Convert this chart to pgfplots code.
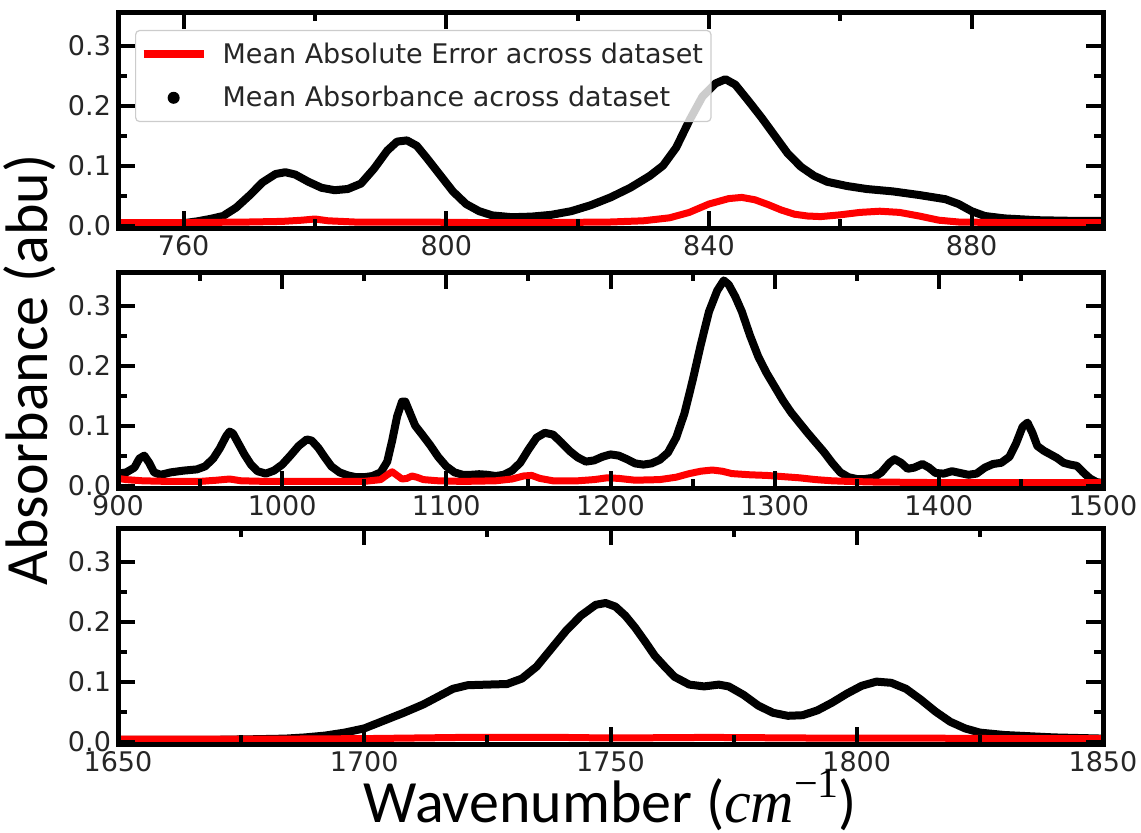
\documentclass[border=0pt]{standalone}
\usepackage{fontspec}
\setmainfont{DejaVu Sans}
\newfontfamily\carlito{Carlito}
\newfontfamily\lserif{Liberation Serif}
\usepackage{pgfplots}
\pgfplotsset{compat=1.18}

\pgfplotsset{
  panel/.style={
    scale only axis, width=492.5pt, height=108pt,
    ymin=-0.004, ymax=0.356,
    ytick={0,0.1,0.2,0.3}, minor ytick={0.05,0.15,0.25},
    yticklabel style={/pgf/number format/fixed, /pgf/number format/fixed zerofill, /pgf/number format/precision=1},
    xticklabel style={/pgf/number format/1000 sep={}},
    /pgf/number format/assume math mode=true,
    tick label style={font=\fontsize{13.5}{16}\selectfont, text=black!85},
    axis line style={line width=2.5pt},
    tick align=inside, xtick pos=both, ytick pos=both,
    xticklabel pos=lower, yticklabel pos=left,
    major tick length=8.5pt, minor tick length=4.5pt,
    tick style={line width=2pt, black},
    axis on top,
  },
  blk/.style={black, line width=4pt, line join=round, mark=none},
  rd/.style={red, line width=3.5pt, line join=round, mark=none},
}

\begin{document}
\begin{tikzpicture}
\useasboundingbox (0,0) rectangle (570.5pt,-416pt);

% ---------------- panel 1 ----------------
\begin{axis}[panel, at={(59pt,-6pt)}, anchor=north west,
  xmin=750, xmax=900, xtick={760,800,840,880}, minor xtick={780,820,860},
  legend cell align=left,
  legend style={at={(axis description cs:0.0173,0.917)}, anchor=north west,
    fill=white, fill opacity=0.8, text opacity=1, draw=black!20, draw opacity=1,
    rounded corners=2pt, line width=0.6pt,
    font=\fontsize{13.5}{16}\selectfont, text=black!85,
    column sep=5.5pt, row sep=6pt, inner xsep=2pt, inner ysep=4pt}]
\addlegendimage{legend image code/.code={\path[draw=none] (0pt,0pt) -- (30pt,0pt);\draw[red, line width=4pt, draw opacity=1] (0pt,0pt) -- (30pt,0pt);}}
\addlegendentry{Mean Absolute Error across dataset}
\addlegendimage{legend image code/.code={\path[draw=none] (0pt,0pt) -- (30pt,0pt);\fill[black, draw=none, fill opacity=1] (15pt,0pt) circle (3pt);}}
\addlegendentry{Mean Absorbance across dataset}
\addplot[blk, forget plot] coordinates {
(750,0.003) (755,0.003) (760,0.004) (762,0.007) (764,0.011) (766,0.016) (768,0.03)
(770,0.05) (772,0.072) (774,0.086) (775.5,0.089) (777,0.085) (779,0.073) (781,0.063)
(783,0.059) (785,0.061) (787,0.07) (789,0.095) (791,0.125) (792.5,0.14) (794,0.142)
(795.5,0.133) (797,0.113) (799,0.085) (801,0.057) (803,0.036) (805,0.024) (807,0.017)
(810,0.014) (813,0.015) (816,0.018) (819,0.024) (822,0.034) (825,0.047) (828,0.063)
(831,0.083) (833,0.1) (835,0.13) (837,0.175) (839,0.215) (841,0.237) (842.5,0.244)
(844,0.235) (846,0.208) (848,0.18) (850,0.15) (852,0.12) (854,0.098) (856,0.083)
(858,0.073) (861,0.066) (864,0.061) (868,0.057) (872,0.051) (876,0.044) (878,0.036)
(880,0.024) (882,0.016) (885,0.012) (890,0.009) (895,0.008) (900,0.008)
};
\addplot[rd, forget plot] coordinates {
(750,0.005) (760,0.005) (770,0.006) (775,0.007) (778,0.009) (780,0.011) (782,0.008)
(786,0.006) (795,0.006) (805,0.005) (815,0.005) (825,0.006) (830,0.008) (834,0.013)
(837,0.022) (840,0.036) (843,0.045) (845,0.047) (847,0.043) (849,0.035) (851,0.026)
(853,0.019) (855,0.016) (857,0.015) (860,0.018) (863,0.022) (866,0.024) (869,0.022)
(872,0.016) (875,0.009) (878,0.006) (885,0.005) (900,0.005)
};
\end{axis}

% ---------------- panel 2 ----------------
\begin{axis}[panel, at={(59pt,-136pt)}, anchor=north west,
  xmin=900, xmax=1500, xtick={900,1000,...,1500}, minor xtick={950,1050,...,1450},
  ylabel={Absorbance (abu)},
  ylabel style={font=\carlito\fontsize{30}{36}\selectfont, text=black,
    at={(axis description cs:-0.0893,0.546)}, anchor=center}]
\addplot[blk] coordinates {
(900,0.02) (905,0.022) (910,0.03) (913,0.045) (916,0.05) (919,0.038) (922,0.022)
(926,0.018) (932,0.022) (940,0.025) (948,0.027) (953,0.032) (958,0.045) (962,0.062)
(966,0.083) (968,0.09) (970,0.087) (973,0.072) (977,0.052) (981,0.035) (985,0.024)
(990,0.02) (995,0.025) (1000,0.035) (1005,0.05) (1010,0.066) (1015,0.077) (1018,0.075)
(1022,0.063) (1026,0.047) (1030,0.032) (1035,0.022) (1040,0.017) (1045,0.014) (1050,0.014)
(1055,0.016) (1060,0.022) (1064,0.04) (1067,0.075) (1070,0.115) (1073,0.14) (1075,0.14)
(1078,0.12) (1081,0.1) (1085,0.086) (1090,0.068) (1095,0.048) (1100,0.032) (1105,0.022)
(1110,0.018) (1115,0.018) (1120,0.019) (1125,0.018) (1130,0.016) (1135,0.018) (1140,0.025)
(1145,0.038) (1150,0.06) (1155,0.08) (1160,0.088) (1165,0.085) (1170,0.072) (1175,0.058)
(1180,0.047) (1185,0.04) (1190,0.042) (1195,0.048) (1200,0.052) (1205,0.05) (1210,0.044)
(1215,0.037) (1220,0.035) (1225,0.037) (1230,0.043) (1235,0.055) (1240,0.08) (1245,0.12)
(1250,0.175) (1255,0.235) (1260,0.29) (1265,0.325) (1269,0.342) (1272,0.335) (1276,0.315)
(1280,0.29) (1285,0.25) (1290,0.215) (1295,0.188) (1300,0.165) (1305,0.142) (1310,0.122)
(1315,0.105) (1320,0.088) (1325,0.072) (1330,0.056) (1335,0.038) (1340,0.022) (1345,0.014)
(1350,0.011) (1355,0.011) (1360,0.013) (1365,0.022) (1370,0.038) (1373,0.044) (1377,0.038)
(1381,0.028) (1385,0.03) (1390,0.036) (1394,0.03) (1398,0.021) (1403,0.02) (1408,0.024)
(1413,0.021) (1418,0.018) (1423,0.02) (1428,0.03) (1433,0.036) (1438,0.038) (1443,0.048)
(1447,0.07) (1451,0.098) (1454,0.105) (1457,0.088) (1460,0.066) (1464,0.058) (1468,0.052)
(1472,0.046) (1476,0.038) (1480,0.035) (1484,0.033) (1488,0.022) (1492,0.012) (1496,0.006)
(1500,0.004)
};
\addplot[rd] coordinates {
(900,0.012) (905,0.01) (915,0.008) (930,0.007) (950,0.007) (960,0.009) (968,0.011)
(975,0.008) (990,0.007) (1010,0.007) (1030,0.007) (1050,0.007) (1060,0.01) (1064,0.018)
(1067,0.023) (1070,0.017) (1073,0.011) (1076,0.012) (1079,0.016) (1082,0.014) (1086,0.01)
(1095,0.008) (1110,0.007) (1130,0.008) (1140,0.011) (1147,0.016) (1152,0.017) (1157,0.012)
(1165,0.008) (1180,0.008) (1190,0.01) (1198,0.013) (1205,0.012) (1215,0.009) (1230,0.01)
(1240,0.014) (1248,0.02) (1255,0.024) (1262,0.026) (1268,0.024) (1274,0.02) (1285,0.018)
(1295,0.017) (1305,0.015) (1315,0.013) (1325,0.01) (1335,0.008) (1345,0.007) (1360,0.006)
(1400,0.005) (1450,0.005) (1500,0.005)
};
\end{axis}

% ---------------- panel 3 ----------------
\begin{axis}[panel, at={(59pt,-264pt)}, anchor=north west,
  xmin=1650, xmax=1850, xtick={1650,1700,...,1850}, minor xtick={1675,1725,...,1825},
  xlabel={Wavenumber ({\lserif\itshape cm}\raisebox{0.42em}{\lserif\fontsize{21}{24}\selectfont −1})},
  xlabel style={font=\carlito\fontsize{30}{36}\selectfont, text=black,
    at={(axis description cs:0.5,-0.262)}, anchor=center}]
\addplot[blk] coordinates {
(1650,0.003) (1660,0.003) (1670,0.003) (1678,0.004) (1684,0.005) (1688,0.007) (1692,0.01)
(1696,0.015) (1700,0.022) (1704,0.035) (1708,0.048) (1712,0.062) (1715,0.075) (1718,0.088)
(1721,0.094) (1725,0.095) (1729,0.096) (1732,0.105) (1735,0.125) (1738,0.155) (1741,0.185)
(1744,0.21) (1747,0.228) (1749,0.231) (1751,0.225) (1753,0.21) (1755,0.19) (1757,0.167)
(1759,0.143) (1761,0.125) (1763,0.108) (1766,0.095) (1769,0.092) (1772,0.095) (1774,0.092)
(1777,0.078) (1780,0.06) (1783,0.048) (1786,0.043) (1789,0.044) (1792,0.052) (1795,0.065)
(1798,0.08) (1801,0.093) (1804,0.1) (1807,0.098) (1810,0.088) (1813,0.07) (1816,0.05)
(1819,0.033) (1822,0.022) (1825,0.015) (1830,0.011) (1835,0.009) (1840,0.007) (1845,0.006)
(1850,0.005)
};
\addplot[rd] coordinates {
(1650,0.004) (1680,0.004) (1700,0.005) (1720,0.007) (1740,0.007) (1750,0.006) (1770,0.007)
(1790,0.006) (1810,0.006) (1830,0.005) (1850,0.005)
};
\end{axis}
\end{tikzpicture}
\end{document}
